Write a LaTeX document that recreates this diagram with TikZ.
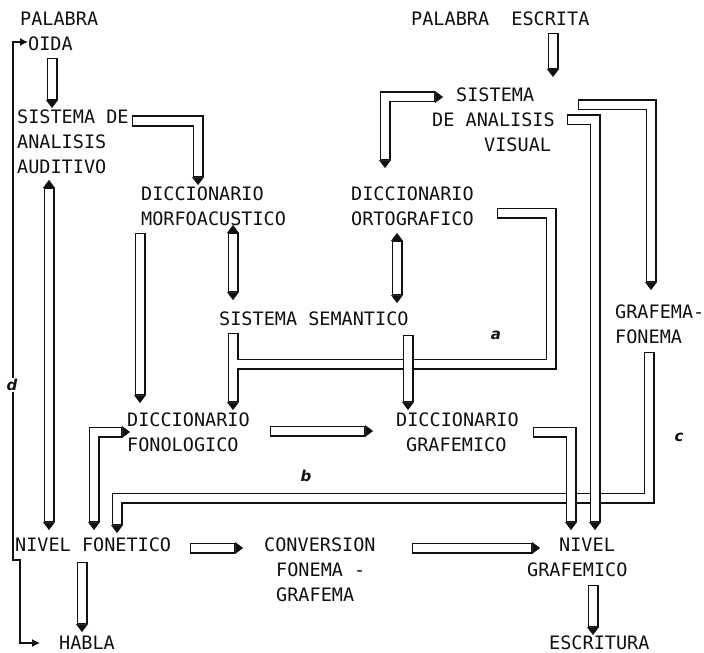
\documentclass[tikz,border=0pt]{standalone}
\usepackage{fontspec}
\setmainfont{DejaVu Sans Mono}
\newfontfamily\tagfont{DejaVu Sans}
\usetikzlibrary{arrows.meta,calc}
\definecolor{Ink}{HTML}{111111}
\definecolor{Paper}{HTML}{FFFFFF}
\tikzset{
  pen/.tip={Triangle[length=8bp,width=12bp,line width=0.5bp]},
  dot/.tip={Latex[length=8bp,width=8bp]},
  lbl/.style={anchor=north west, inner sep=0pt, align=left, text=Ink,
              font=\fontsize{18.5bp}{25bp}\selectfont},
  tag/.style={inner sep=1bp, text=Ink,
              font=\tagfont\bfseries\itshape\fontsize{15bp}{15bp}\selectfont},
  tube/.style={draw=Paper, line width=8.2bp, line cap=butt, line join=miter,
               shorten <=1.4bp, shorten >=9bp,
               preaction={draw=Ink, line width=11bp, shorten <=0pt, shorten >=0pt, -pen}},
  tubetwo/.style={draw=Paper, line width=8.2bp, line cap=butt, line join=miter,
               shorten <=9bp, shorten >=9bp,
               preaction={draw=Ink, line width=11bp, shorten <=0pt, shorten >=0pt, pen-pen}},
  tubejoin/.style={draw=Paper, line width=8.2bp, line cap=butt, line join=miter,
               shorten <=1.4bp,
               preaction={draw=Ink, line width=11bp, shorten <=0pt}},
  link/.style={draw=Ink, line width=1.3bp, dot-dot},
}

\begin{document}
\begin{tikzpicture}[x=1bp, y=-1bp]
  \fill[Paper] (0,0) rectangle (704,653);
  \useasboundingbox (0,0) rectangle (704,653);

  \node[lbl] (po) at (20,12) {PALABRA\\\hspace*{8bp}OIDA};
  \node[lbl] (saa) at (17,110) {SISTEMA DE\\ANALISIS\\AUDITIVO};
  \node[lbl] (dm) at (141,187) {DICCIONARIO\\MORFOACUSTICO};
  \node[lbl] (pe) at (411,12) {PALABRA~~ESCRITA};
  \node[lbl] (sav) at (432,88) {\hspace*{24bp}SISTEMA\\DE ANALISIS\\\hspace*{52bp}VISUAL};
  \node[lbl] (do) at (351,187) {DICCIONARIO\\ORTOGRAFICO};
  \node[lbl] (ss) at (219,312) {SISTEMA SEMANTICO};
  \node[lbl] (gf) at (615,305) {GRAFEMA-\\FONEMA};
  \node[lbl] (df) at (127,413) {DICCIONARIO\\FONOLOGICO};
  \node[lbl] (dg) at (396,413) {DICCIONARIO\\\hspace*{10bp}GRAFEMICO};
  \node[lbl] (nf) at (15,538) {NIVEL FONETICO};
  \node[lbl] (cfg) at (264,538) {CONVERSION\\\hspace*{12bp}FONEMA -\\\hspace*{12bp}GRAFEMA};
  \node[lbl] (ng) at (527,538) {\hspace*{32bp}NIVEL\\GRAFEMICO};
  \node[lbl] (habla) at (59,636) {HABLA};
  \node[lbl] (escr) at (549,636) {ESCRITURA};

  \coordinate (ja) at ($(do.north west)+(200,177)$);
  \coordinate (jdf) at ($(ss.north west)+(18.1,52)$);
  \coordinate (jb) at ($(nf.north west)+(102,-40)$);

  \draw[tube] ($(po.north west)+(32,46)$) -- ($(saa.north west)+(35,-2)$);
  \draw[tube] ($(saa.north west)+(115,11)$) -| ($(dm.north west)+(57,-2)$);
  \draw[tubetwo] ($(saa.north west)+(32,70)$) -- ($(nf.north west)+(34,-8)$);
  \draw[tubetwo] ($(dm.north west)+(92,38)$) -- ($(ss.north west)+(14,-12)$);
  \draw[tube] ($(dm.north west)+(-1,46)$) -- ($(df.north west)+(13,-10)$);
  \draw[tubetwo] ($(do.north west)+(34,-19)$) |- ($(sav.north west)+(11,9)$);
  \draw[tube] ($(pe.north west)+(142,21)$) -- ($(sav.north west)+(121,-11)$);
  \draw[tube] ($(sav.north west)+(146,17)$) -| ($(gf.north west)+(36,-15)$);
  \draw[tubetwo] ($(do.north west)+(46,46)$) -- ($(ss.north west)+(178,-9)$);
  \draw[tube] ($(ss.north west)+(14,21)$) -- ($(df.north west)+(106,-3)$);
  \draw[tubejoin] ($(do.north west)+(146,26)$) -| (ja) -- (jdf);
  \draw[tube] ($(ss.north west)+(189,23)$) -- ($(dg.north west)+(12,-3)$);
  \draw[tubetwo] ($(df.north west)+(3,19)$) -| ($(nf.north west)+(79,-8)$);
  \draw[tube] ($(df.north west)+(143,18)$) -- ($(dg.north west)+(-23,18)$);
  \draw[tube] ($(gf.north west)+(34,47)$) |- (jb) -- ($(nf.north west)+(102,-5)$);
  \draw[tube] ($(sav.north west)+(135,32)$) -| ($(ng.north west)+(68,-8)$);
  \draw[tube] ($(dg.north west)+(137,19)$) -| ($(ng.north west)+(44,-8)$);
  \draw[tube] ($(nf.north west)+(175,10)$) -- ($(cfg.north west)+(-21,10)$);
  \draw[tube] ($(cfg.north west)+(148,10)$) -- ($(ng.north west)+(13,10)$);
  \draw[tube] ($(nf.north west)+(67,24)$) -- ($(habla.north west)+(23,-4)$);
  \draw[tube] ($(ng.north west)+(66,47)$) -- ($(escr.north west)+(44,-1)$);

  \draw[link] ($(po.north west)+(8,30)$) -- ++(-15,0) -- ++(0,518) -- ++(7,0)
    |- ($(habla.north west)+(-19,7)$);

  \node[tag] (la) at (496,335) {a};
  \node[tag] (lb) at (306,476) {b};
  \node[tag] (lc) at (679,437) {c};
  \node[tag, fill=Paper] (ld) at (12,385) {d};
\end{tikzpicture}
\end{document}
